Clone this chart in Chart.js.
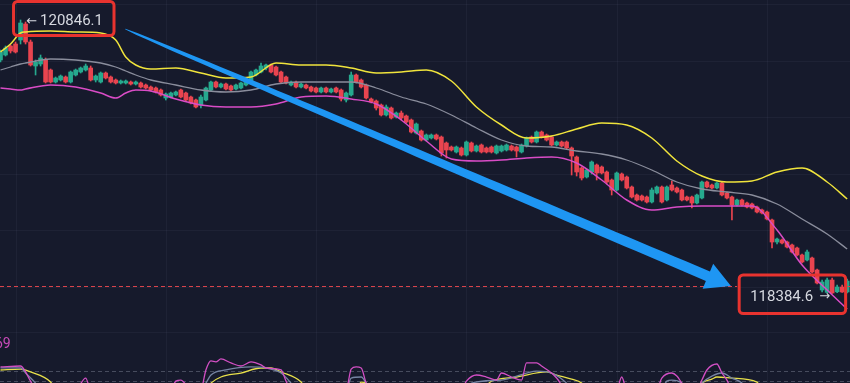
<!DOCTYPE html>
<html><head><meta charset="utf-8">
<script src="https://cdn.jsdelivr.net/npm/chart.js@4.4.0/dist/chart.umd.min.js"></script>
<style>
html,body{margin:0;padding:0;background:#161a2c;overflow:hidden;}
#wrap{position:relative;width:850px;height:383px;background:#161a2c;}
#main{position:absolute;left:0;top:0;}
#sub{position:absolute;left:0;top:332px;}
</style></head><body>
<div id="wrap"><canvas id="main" width="850" height="332"></canvas><canvas id="sub" width="850" height="51"></canvas></div>
<script>
// ---- candle data (BTC price, one candle per bar) ----
const opens = [120486,120531,120612,120630,120666,120810,120648,120432,120450,120486,
120396,120288,120306,120333,120288,120351,120378,120396,120414,120306,
120288,120369,120333,120306,120279,120279,120288,120270,120279,120261,
120243,120234,120216,120144,120153,120171,120216,120189,120153,120126,
120081,120126,120216,120288,120243,120270,120252,120225,120234,120261,
120279,120351,120378,120414,120441,120423,120378,120333,120261,120288,
120243,120261,120243,120234,120198,120234,120198,120234,120216,120126,
120171,120351,120306,120261,120135,120117,120081,119991,120054,119973,
120009,119982,119946,119829,119847,119766,119784,119811,119793,119739,
119703,119658,119694,119631,119739,119667,119721,119694,119703,119649,
119667,119676,119712,119703,119658,119712,119793,119748,119838,119811,
119793,119721,119748,119748,119694,119613,119514,119433,119478,119541,
119523,119478,119406,119316,119460,119433,119343,119271,119262,119253,
119208,119289,119343,119226,119361,119334,119316,119253,119253,119199,
119244,119388,119361,119334,119379,119289,119253,119181,119226,119199,
119190,119163,119136,119118,119046,118848,118866,118848,118821,118794,
118731,118686,118704,118596,118416,118395,118506,118400,118443,118398];
const closes = [120558,120594,120567,120558,120819,120648,120441,120468,120504,120288,
120288,120324,120342,120288,120378,120396,120414,120432,120306,120342,
120369,120324,120288,120279,120297,120297,120270,120288,120243,120234,
120216,120198,120171,120180,120189,120198,120153,120126,120099,120063,
120153,120234,120288,120243,120270,120225,120216,120261,120279,120306,
120378,120396,120432,120441,120378,120351,120288,120279,120288,120243,
120270,120234,120207,120198,120234,120198,120225,120198,120135,120189,
120351,120288,120243,120144,120108,120054,119991,120063,119964,120009,
119964,119928,119838,119910,119766,119811,119811,119775,119649,119676,
119676,119703,119631,119748,119667,119712,119658,119658,119658,119712,
119712,119721,119676,119667,119721,119784,119748,119838,119793,119766,
119721,119748,119712,119694,119622,119478,119424,119496,119568,119469,
119469,119388,119316,119469,119406,119334,119253,119226,119226,119208,
119316,119343,119208,119343,119316,119298,119226,119226,119199,119271,
119388,119343,119334,119379,119271,119244,119181,119226,119181,119163,
119154,119118,119109,119055,118848,118875,118839,118803,118758,118731,
118668,118758,118578,118479,118488,118506,118389,118443,118398,118497];
const highs = [120576,120612,120621,120648,120846.1,120828,120666,120486,120531,120504,
120405,120333,120351,120342,120387,120405,120423,120450,120432,120351,
120378,120378,120342,120315,120306,120306,120297,120297,120288,120270,
120252,120243,120225,120189,120198,120207,120225,120198,120162,120135,
120171,120243,120297,120297,120279,120279,120261,120270,120288,120315,
120387,120405,120459,120450,120450,120432,120387,120342,120297,120297,
120279,120270,120252,120243,120243,120243,120234,120243,120225,120198,
120378,120360,120315,120270,120144,120126,120090,120081,120063,120018,
120027,119991,119955,119919,119856,119820,119820,119820,119802,119748,
119712,119712,119703,119757,119748,119721,119730,119703,119712,119721,
119721,119730,119721,119712,119730,119793,119802,119847,119847,119820,
119802,119757,119757,119757,119703,119622,119523,119505,119577,119550,
119532,119487,119415,119478,119469,119442,119352,119280,119271,119262,
119334,119352,119352,119352,119397,119343,119325,119262,119262,119280,
119397,119397,119370,119388,119388,119298,119262,119235,119235,119208,
119199,119172,119145,119127,119055,118884,118875,118857,118830,118803,
118740,118776,118713,118605,118506,118524,118524,118461,118461,118515];
const lows = [120468,120522,120549,120549,120630,120630,120432,120351,120432,120279,
120279,120279,120297,120279,120279,120342,120369,120387,120297,120288,
120279,120315,120279,120270,120270,120270,120261,120261,120234,120225,
120207,120189,120162,120126,120144,120162,120144,120117,120090,120054,
120054,120117,120207,120234,120234,120216,120207,120216,120225,120252,
120270,120342,120369,120396,120369,120342,120279,120270,120252,120234,
120234,120225,120198,120189,120189,120189,120189,120189,120117,120108,
120162,120279,120234,120135,120099,120036,119982,119982,119955,119964,
119946,119919,119829,119820,119757,119757,119775,119766,119622,119604,
119667,119649,119622,119622,119658,119658,119649,119649,119649,119640,
119658,119667,119667,119613,119649,119703,119739,119739,119784,119757,
119712,119712,119703,119685,119451,119442,119406,119424,119460,119406,
119460,119370,119271,119307,119397,119325,119244,119217,119217,119199,
119199,119280,119199,119217,119307,119289,119217,119217,119154,119190,
119235,119334,119325,119325,119262,119235,119046,119172,119172,119154,
119145,119109,119100,119046,118794,118830,118830,118794,118749,118722,
118659,118677,118569,118470,118398,118390,118384.6,118392,118395,118389];

// ---- Bollinger bands (read at these candle indices) ----
const bbIdx = [0,2,4,5,10,15,20,23,25,27,30,35,40,45,50,55,60,65,70,75,80,85,90,95,100,105,110,115,120,125,130,135,140,145,150,155,160,165,169];
const bbUpper = [120558,120630,120729,120738,120747,120738,120729,120666,120513,120441,120405,120414,120369,120324,120333,120459,120441,120441,120414,120369,120378,120396,120297,120063,119901,119784,119802,119865,119919,119901,119784,119577,119442,119388,119397,119478,119514,119388,119235];
const bbMiddle = [120396,120423,120450,120459,120495,120486,120459,120423,120387,120351,120306,120261,120216,120198,120216,120270,120288,120288,120288,120234,120153,120090,119991,119874,119766,119712,119703,119667,119640,119586,119496,119388,119325,119298,119271,119190,119055,118920,118785];
const bbLower = [120234,120225,120216,120225,120261,120243,120189,120144,120189,120216,120207,120135,120081,120063,120063,120090,120153,120162,120135,120090,119946,119757,119595,119577,119586,119604,119613,119559,119406,119226,119136,119163,119172,119172,119172,118956,118641,118416,118245];

// ---- oscillator panel (three lines) ----
const kIdx = [0,4,6,7,15,17,18,34,35,36,38,40,41,42,43,44,46,48,50,52,53,56,57,58,69,70,71,72,73,74,92,93,95,97,99,100,102,104,105,107,108,110,111,113,123,124,125,131,132,134,135,136,137,139,140,141,143,144,145,146,169];
const kVal = [83.4,84.3,69.9,62,62,72.8,62,62,69.9,70.9,62,62,80.5,89.1,88.2,91,87.2,84.3,88.2,85.3,82.4,80.5,69.9,62,62,81.4,83.4,82.4,68,62,62,69.9,75.7,73.8,70.9,77.6,73.8,70.9,87.2,87.2,84.3,77.6,72.8,62,62,73.8,62,62,72.8,77.6,74.7,68,62,62,70.9,80.5,86.2,77.6,70.9,62,62];
const dIdx = [0,4,5,7,8,40,41,42,45,50,53,56,58,59,69,70,72,73,74,93,94,100,105,107,110,113,114,132,133,134,136,137,139,140,142,144,146,148,149,169];
const dVal = [82.5,82.5,77.6,68,62,62,68,75.7,80.5,83.4,82.4,77.6,68,62,62,72.8,73.8,68,62,62,68,70.9,77.6,79.5,77.6,68,62,62,69.9,70.9,68,62,62,68,74.7,77.6,72.8,68,62,62];
const jIdx = [0,4,6,10,11,41,42,44,48,52,54,56,60,61,71,72,73,74,96,98,103,109,111,114,116,117,139,140,142,143,146,151,152,169];
const jVal = [80.5,81.4,78.6,69,62,62,68,73.8,77.6,82.4,82.4,78.6,69,62,62,69,68,62,62,69.9,73.8,78.6,75.7,71.8,68,62,62,68,71.8,73.8,72.8,69,62,62];
const oscLevels = [80, 70];
const oscReadout = '69';

// ---- grid / annotations ----
const gridIdx = [3,33,63,93,123,153];
const gridPrices = [120990,120481,119973,119464,118956,118447];
const highLabel = {idx:4, price:120846.1, text:'120846.1', arrow:'←'};
const lowLabel = {idx:166, price:118384.6, text:'118384.6', arrow:'→'};
const priceLine = 118452;
const arrowFrom = [24.9, 120765];
const arrowTo = [145.8, 118452];

// ---- styling ----
const X_MIN = -0.1, X_MAX = 169.566;
const UP = '#26a98e', DOWN = '#e9444f';
const GRID = 'rgba(130,140,175,0.075)';
const TEXT = '#d6d9e0';
const RED = '#e8332f';
const BLUE = '#1e96f3';
const LABEL_FONT = '15px Roboto, "Noto Sans", sans-serif';
const ARROW_FONT = '13px "DejaVu Sans", sans-serif';
const candleColors = opens.map((o,i)=> closes[i] >= o ? UP : DOWN);

function rrect(ctx, x, y, w, h, r){
  ctx.beginPath();
  ctx.moveTo(x+r,y); ctx.lineTo(x+w-r,y); ctx.arcTo(x+w,y,x+w,y+r,r);
  ctx.lineTo(x+w,y+h-r); ctx.arcTo(x+w,y+h,x+w-r,y+h,r);
  ctx.lineTo(x+r,y+h); ctx.arcTo(x,y+h,x,y+h-r,r);
  ctx.lineTo(x,y+r); ctx.arcTo(x,y,x+r,y,r); ctx.closePath();
}

function drawArrow(ctx, p0, p1){
  const dx=p1.x-p0.x, dy=p1.y-p0.y, len=Math.hypot(dx,dy);
  const ux=dx/len, uy=dy/len, nx=-uy, ny=ux;
  const headL=25, headW=13.5;
  const shaftLen=len-headL;
  const left=[], right=[];
  for(let k=0;k<=50;k++){
    const t=k/50, s=t*shaftLen, cx=p0.x+ux*s, cy=p0.y+uy*s;
    const hw=(0.7+9.8*Math.sqrt(t))/2;
    left.push([cx+nx*hw, cy+ny*hw]); right.push([cx-nx*hw, cy-ny*hw]);
  }
  const bx=p1.x-ux*headL, by=p1.y-uy*headL;
  ctx.beginPath(); ctx.moveTo(left[0][0], left[0][1]);
  left.forEach(p=>ctx.lineTo(p[0],p[1]));
  ctx.lineTo(bx+nx*headW, by+ny*headW); ctx.lineTo(p1.x,p1.y); ctx.lineTo(bx-nx*headW, by-ny*headW);
  for(let k=right.length-1;k>=0;k--) ctx.lineTo(right[k][0], right[k][1]);
  ctx.closePath(); ctx.fill();
}

const mainDecor = {
  id:'mainDecor',
  beforeDatasetsDraw(chart){
    const {ctx, chartArea:a, scales:{x,y}} = chart;
    ctx.save(); ctx.strokeStyle=GRID; ctx.lineWidth=1; ctx.beginPath();
    gridIdx.forEach(v=>{const p=Math.round(x.getPixelForValue(v))+0.5; ctx.moveTo(p,a.top); ctx.lineTo(p,a.bottom);});
    gridPrices.forEach(v=>{const p=Math.round(y.getPixelForValue(v))+0.5; ctx.moveTo(a.left,p); ctx.lineTo(a.right,p);});
    ctx.stroke(); ctx.restore();
  },
  afterDatasetsDraw(chart){
    const {ctx, chartArea:a, scales:{x,y}} = chart;
    ctx.save();
    // low label geometry
    const lx = x.getPixelForValue(lowLabel.idx), ly = y.getPixelForValue(lowLabel.price);
    const base2 = ly + 7.5;
    ctx.font = LABEL_FONT;
    const w2 = ctx.measureText(lowLabel.text).width;
    const txtR = lx - 19;
    const bL = txtR - w2 - 11, bR = lx + 13.5, bT = base2 - 26, bB = base2 + 12.5;
    // dashed price line
    const py = Math.round(y.getPixelForValue(priceLine)) + 0.5;
    ctx.strokeStyle = '#d9434b'; ctx.lineWidth = 1; ctx.setLineDash([4,3]);
    ctx.beginPath(); ctx.moveTo(a.left, py); ctx.lineTo(bL-2, py); ctx.moveTo(bR+2, py); ctx.lineTo(a.right, py); ctx.stroke();
    ctx.setLineDash([]);
    // big arrow
    ctx.fillStyle = BLUE;
    drawArrow(ctx, {x:x.getPixelForValue(arrowFrom[0]), y:y.getPixelForValue(arrowFrom[1])},
                   {x:x.getPixelForValue(arrowTo[0]), y:y.getPixelForValue(arrowTo[1])});
    // high label
    const hx = x.getPixelForValue(highLabel.idx), hy = y.getPixelForValue(highLabel.price);
    const base1 = hy + 5.5, numX = hx + 19.5;
    ctx.fillStyle = TEXT; ctx.textBaseline = 'alphabetic';
    ctx.font = LABEL_FONT; ctx.textAlign = 'left';
    ctx.fillText(highLabel.text, numX, base1);
    const w1 = ctx.measureText(highLabel.text).width;
    ctx.font = ARROW_FONT; ctx.textAlign = 'right';
    ctx.fillText(highLabel.arrow, numX - 3, base1 - 0.5);
    ctx.strokeStyle = RED; ctx.lineWidth = 3;
    rrect(ctx, hx - 7, base1 - 24, (numX + w1 + 11) - (hx - 7), 34, 4); ctx.stroke();
    // low label
    ctx.font = LABEL_FONT; ctx.textAlign = 'right';
    ctx.fillText(lowLabel.text, txtR, base2);
    ctx.font = ARROW_FONT; ctx.textAlign = 'left';
    ctx.fillText(lowLabel.arrow, lx - 13, base2 - 0.5);
    rrect(ctx, bL, bT, bR - bL, bB - bT, 4); ctx.stroke();
    ctx.restore();
  }
};

const pts = (idx, vals) => idx.map((v,k)=>({x:v, y:vals[k]}));

new Chart(document.getElementById('main'), {
  type:'bar',
  data:{ datasets:[
    {type:'line', data:pts(bbIdx,bbUpper), borderColor:'#f0e43c', borderWidth:1.5, pointRadius:0, cubicInterpolationMode:'monotone', order:0},
    {type:'line', data:pts(bbIdx,bbMiddle), borderColor:'#8a8d9c', borderWidth:1.3, pointRadius:0, cubicInterpolationMode:'monotone', order:0},
    {type:'line', data:pts(bbIdx,bbLower), borderColor:'#d94cc6', borderWidth:1.5, pointRadius:0, cubicInterpolationMode:'monotone', order:0},
    {type:'bar', data:opens.map((o,i)=>({x:i, y:[o, closes[i]]})), backgroundColor:candleColors, barThickness:4, grouped:false, minBarLength:1, borderWidth:0, order:2},
    {type:'bar', data:lows.map((l,i)=>({x:i, y:[l, highs[i]]})), backgroundColor:candleColors, barThickness:1, grouped:false, borderWidth:0, order:3}
  ]},
  options:{
    responsive:false, animation:false, devicePixelRatio:1, events:[],
    layout:{padding:0},
    plugins:{legend:{display:false}, tooltip:{enabled:false}},
    scales:{
      x:{type:'linear', min:X_MIN, max:X_MAX, display:false, offset:false},
      y:{type:'linear', min:118038, max:121026, display:false}
    }
  },
  plugins:[mainDecor]
});

const subDecor = {
  id:'subDecor',
  beforeDatasetsDraw(chart){
    const {ctx, chartArea:a, scales:{x,y}} = chart;
    ctx.save(); ctx.strokeStyle=GRID; ctx.lineWidth=1; ctx.beginPath();
    gridIdx.forEach(v=>{const p=Math.round(x.getPixelForValue(v))+0.5; ctx.moveTo(p,a.top); ctx.lineTo(p,a.bottom);});
    ctx.moveTo(a.left, 0.5); ctx.lineTo(a.right, 0.5);
    ctx.stroke();
    ctx.strokeStyle='#474c5e'; ctx.setLineDash([4,3]); ctx.beginPath();
    oscLevels.forEach(v=>{const p=Math.round(y.getPixelForValue(v))+0.5; ctx.moveTo(a.left,p); ctx.lineTo(a.right,p);});
    ctx.stroke(); ctx.setLineDash([]);
    ctx.fillStyle='#c94bb9'; ctx.font='14px Roboto, "Noto Sans", sans-serif'; ctx.textAlign='left'; ctx.textBaseline='alphabetic';
    ctx.fillText(oscReadout, -5, 16);
    ctx.restore();
  }
};

new Chart(document.getElementById('sub'), {
  type:'line',
  data:{ datasets:[
    {data:pts(kIdx,kVal), borderColor:'#d24fc4', borderWidth:1.3, pointRadius:0, cubicInterpolationMode:'monotone', order:0},
    {data:pts(dIdx,dVal), borderColor:'#7684a3', borderWidth:1.3, pointRadius:0, cubicInterpolationMode:'monotone', order:1},
    {data:pts(jIdx,jVal), borderColor:'#e8e04a', borderWidth:1.3, pointRadius:0, cubicInterpolationMode:'monotone', order:2}
  ]},
  options:{
    responsive:false, animation:false, devicePixelRatio:1, events:[],
    layout:{padding:0},
    plugins:{legend:{display:false}, tooltip:{enabled:false}},
    scales:{
      x:{type:'linear', min:X_MIN, max:X_MAX, display:false},
      y:{type:'linear', min:68.1, max:116.67, display:false}
    }
  },
  plugins:[subDecor]
});
</script>
</body></html>
